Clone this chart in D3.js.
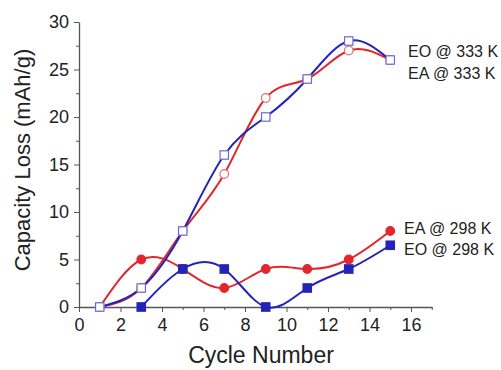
<!DOCTYPE html>
<html>
<head>
<meta charset="utf-8">
<script src="https://cdn.jsdelivr.net/npm/d3@7"></script>
<style>
  body { margin: 0; background: #fff; }
  text { font-family: "Liberation Sans", Arial, sans-serif; fill: #222; }
</style>
</head>
<body>
<div id="chart"></div>
<script>
// Cycle numbers and capacity loss values
const cycles = [1, 3, 5, 7, 9, 11, 13, 15];
const cycles298EO = [3, 5, 7, 9, 11, 13, 15];

const eo333 = [0, 2, 8, 16, 20, 24, 28, 26];
const ea333 = [0, 2, 8, 14, 22, 24, 27, 26];
const ea298 = [0, 5, 4, 2, 4, 4, 5, 8];
const eo298 = [0, 4, 4, 0, 2, 4, 6.5];

const xTicks = [0, 2, 4, 6, 8, 10, 12, 14, 16];
const yTicks = [0, 5, 10, 15, 20, 25, 30];

const red = "#e3262b", blue = "#2323b8";
const redLight = "#e07070", blueLight = "#6a6ad0";

const width = 501, height = 370;
const svg = d3.select("#chart").append("svg")
    .attr("width", width)
    .attr("height", height);

// Scales
const x = d3.scaleLinear().domain([0, 17]).range([79, 431.75]);
const y = d3.scaleLinear().domain([0, 30]).range([307, 22]);

// Minor ticks
svg.append("g")
    .attr("transform", "translate(0,307)")
    .call(d3.axisBottom(x).tickValues(d3.range(1, 18, 2)).tickSize(3).tickFormat(""))
    .call(g => g.select(".domain").remove())
    .selectAll("line").attr("stroke", "#555");
svg.append("g")
    .attr("transform", "translate(79,0)")
    .call(d3.axisLeft(y).tickValues(d3.range(2.5, 30, 5)).tickSize(3).tickFormat(""))
    .call(g => g.select(".domain").remove())
    .selectAll("line").attr("stroke", "#555");

// X axis
const xAxis = svg.append("g")
    .attr("transform", "translate(0,307)")
    .call(d3.axisBottom(x).tickValues(xTicks).tickSize(5).tickSizeOuter(0).tickPadding(6));
xAxis.select(".domain").attr("stroke", "#555").attr("stroke-width", 1.3);
xAxis.selectAll("line").attr("stroke", "#555");
xAxis.selectAll("text").style("font-size", "18px").attr("fill", "#222");

// Y axis
const yAxis = svg.append("g")
    .attr("transform", "translate(79,0)")
    .call(d3.axisLeft(y).tickValues(yTicks).tickSize(5).tickSizeOuter(0).tickPadding(5));
yAxis.select(".domain").attr("stroke", "#555").attr("stroke-width", 1.3);
yAxis.selectAll("line").attr("stroke", "#555");
yAxis.selectAll("text").style("font-size", "18px").attr("fill", "#222");

// Axis titles
svg.append("text")
    .attr("x", 261).attr("y", 363)
    .attr("text-anchor", "middle")
    .style("font-size", "23px")
    .text("Cycle Number");
svg.append("text")
    .attr("transform", "translate(30,160) rotate(-90)")
    .attr("text-anchor", "middle")
    .style("font-size", "22px")
    .text("Capacity Loss (mAh/g)");

const line = d3.line()
    .x(d => x(d[0]))
    .y(d => y(d[1]))
    .curve(d3.curveNatural);

const series = [
    { xs: cycles, ys: ea298, color: red, shape: "circle", fill: red, stroke: red },
    { xs: cycles298EO, ys: eo298, color: blue, shape: "square", fill: blue, stroke: blue },
    { xs: cycles, ys: ea333, color: red, shape: "circle", fill: "#fff", stroke: redLight },
    { xs: cycles, ys: eo333, color: blue, shape: "square", fill: "#fff", stroke: blueLight }
];

series.forEach(s => {
    const pts = s.xs.map((c, i) => [c, s.ys[i]]);
    svg.append("path")
        .datum(pts)
        .attr("fill", "none")
        .attr("stroke", s.color)
        .attr("stroke-width", 2)
        .attr("d", line);
});

series.forEach(s => {
    const pts = s.xs.map((c, i) => [c, s.ys[i]]);
    if (s.shape === "circle") {
        svg.selectAll(null).data(pts).enter().append("circle")
            .attr("cx", d => x(d[0]))
            .attr("cy", d => y(d[1]))
            .attr("r", 4.3)
            .attr("fill", s.fill)
            .attr("stroke", s.stroke)
            .attr("stroke-width", 1.2);
    } else {
        svg.selectAll(null).data(pts).enter().append("rect")
            .attr("x", d => x(d[0]) - 4.2)
            .attr("y", d => y(d[1]) - 4.2)
            .attr("width", 8.4)
            .attr("height", 8.4)
            .attr("fill", s.fill)
            .attr("stroke", s.stroke)
            .attr("stroke-width", 1.2);
    }
});

// Series labels
const labels = [
    { text: "EO @ 333 K", x: 408, y: 57 },
    { text: "EA @ 333 K", x: 408, y: 79 },
    { text: "EA @ 298 K", x: 404, y: 234 },
    { text: "EO @ 298 K", x: 404, y: 255 }
];
svg.selectAll(".lbl").data(labels).enter().append("text")
    .attr("class", "lbl")
    .attr("x", d => d.x)
    .attr("y", d => d.y)
    .style("font-size", "16px")
    .text(d => d.text);
</script>
</body>
</html>
